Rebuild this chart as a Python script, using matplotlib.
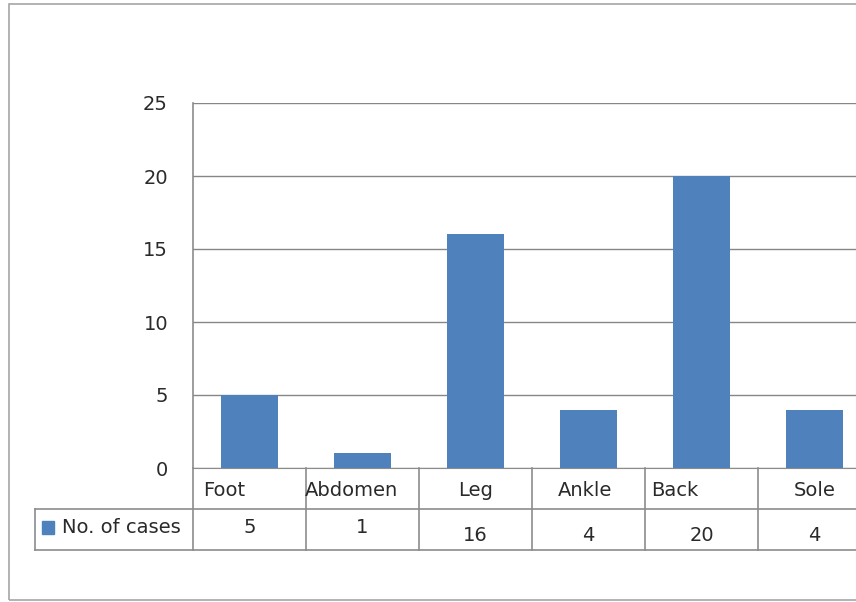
import matplotlib.pyplot as plt
import matplotlib.transforms as mtransforms
from matplotlib.patches import Rectangle

sites = ['Foot', 'Abdomen', 'Leg', 'Ankle', 'Back', 'Sole']
cases = [5, 1, 16, 4, 20, 4]
series_name = 'No. of cases'

bar_color = '#4f81bd'
line_color = '#8c8c8c'
grid_color = '#868686'
text_color = '#2a2a2a'
fsize = 14

W, H = 856, 602
fig = plt.figure(figsize=(W / 100, H / 100), dpi=100)

# outer chart frame (runs off the right edge)
fig.patches.append(Rectangle((9 / W, 2 / H), 1.0, (600 - 4) / H,
                             transform=fig.transFigure, fill=False,
                             edgecolor='#a6a6a6', lw=1.2))

# plot area: 6 categories of 113 px each, starting at x=193
left, top, bottom = 193, 103, 468
ax = fig.add_axes([left / W, (H - bottom) / H, 6 * 113 / W, (bottom - top) / H])

x = list(range(len(sites)))
ax.bar(x, cases, width=0.5, color=bar_color, zorder=3)

ax.set_xlim(-0.5, len(sites) - 0.5)
ax.set_ylim(0, 25)
ax.set_yticks([0, 5, 10, 15, 20, 25])
ax.yaxis.grid(True, color=grid_color, lw=1, zorder=0)
ax.set_xticks([])
ax.tick_params(axis='y', length=0, pad=18, labelsize=fsize, labelcolor=text_color)
for s in ['top', 'right']:
    ax.spines[s].set_visible(False)
ax.spines['left'].set_color(line_color)
ax.spines['bottom'].set_color(line_color)
ax.spines['left'].set_linewidth(1.2)

# data table underneath the bars
trans = mtransforms.blended_transform_factory(ax.transData, ax.transAxes)
row_h = 41 / (bottom - top)
tab_left = -0.5 - (left - 35) / 113
right_end = len(sites) - 0.5
y1, y2 = -row_h, -2 * row_h

lk = dict(transform=trans, color=line_color, lw=1.2, clip_on=False)
ax.plot([tab_left, right_end], [y1, y1], **lk)
ax.plot([tab_left, right_end], [y2, y2], **lk)
ax.plot([tab_left, tab_left], [y1, y2], **lk)
for i in range(len(sites) + 1):
    xb = i - 0.5
    ax.plot([xb, xb], [0, y2], **lk)

# category names sit a little off-centre in some cells
name_shift = [-0.22, -0.1, 0, -0.03, -0.24, 0]
for i, (name, val) in enumerate(zip(sites, cases)):
    ax.text(i + name_shift[i], -0.55 * row_h, name, transform=trans,
            ha='center', va='center', fontsize=fsize, color=text_color)
    vy = -1.45 * row_h if i < 2 else -1.65 * row_h
    ax.text(i, vy, str(val), transform=trans, ha='center', va='center',
            fontsize=fsize, color=text_color)

# legend key inside the first table column
key_x = tab_left + 7 / 113
ax.add_patch(Rectangle((key_x, -1.45 * row_h - 0.018), 12 / 113, 0.036,
                       transform=trans, color=bar_color, clip_on=False))
ax.text(key_x + 20 / 113, -1.45 * row_h, series_name, transform=trans,
        ha='left', va='center', fontsize=fsize, color=text_color)

fig.savefig('out.png', dpi=100)
